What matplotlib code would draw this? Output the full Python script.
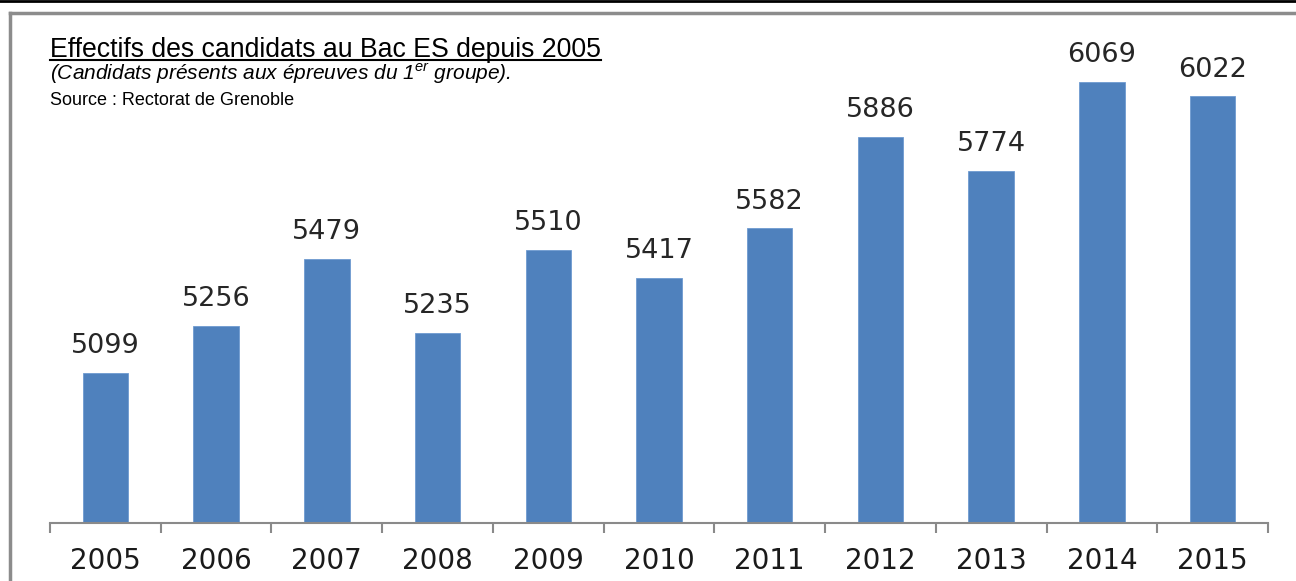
import numpy as np
import matplotlib
matplotlib.use("Agg")
from matplotlib import pyplot as plt
from matplotlib.lines import Line2D

years = ["2005", "2006", "2007", "2008", "2009", "2010", "2011", "2012", "2013", "2014", "2015"]
candidats = [5099, 5256, 5479, 5235, 5510, 5417, 5582, 5886, 5774, 6069, 6022]

title = "Effectifs des candidats au Bac ES depuis 2005"
subtitle = r"(Candidats présents aux épreuves du $1^{er}$ groupe)."
source = "Source : Rectorat de Grenoble"

plt.rcParams['mathtext.fontset'] = 'custom'
plt.rcParams['mathtext.rm'] = 'Liberation Sans:italic'
plt.rcParams['mathtext.it'] = 'Liberation Sans:italic'

W, H = 1296, 581
fig = plt.figure(figsize=(W / 100, H / 100), dpi=100)
ax = fig.add_axes([50 / W, (H - 523) / H, (1268 - 50) / W, 480 / H])

x = np.arange(len(years))
bars = ax.bar(x, candidats, width=0.41, color="#4F81BD", edgecolor="#6f9ad0", linewidth=0.6)
ax.set_xlim(-0.5, len(years) - 0.5)
ax.set_ylim(4600, 6200)

for b, v in zip(bars, candidats):
    ax.annotate(str(v), (b.get_x() + b.get_width() / 2, v), xytext=(0, 10),
                textcoords="offset points", ha="center", va="bottom",
                fontsize=19.5, color="#262626", family="DejaVu Sans")

for s in ["top", "left", "right"]:
    ax.spines[s].set_visible(False)
ax.spines["bottom"].set_color("#8a8a8a")
ax.spines["bottom"].set_linewidth(1.5)
ax.set_yticks([])
ax.set_xticks(x)
ax.set_xticklabels(years, fontsize=20, color="#1a1a1a", family="DejaVu Sans")
ax.tick_params(axis="x", which="major", length=0, pad=17)
ax.set_xticks(np.arange(-0.5, len(years)), minor=True)
ax.tick_params(axis="x", which="minor", length=7, width=1.5, color="#8a8a8a", direction="out")

# titles
t = fig.text(50 / W, (H - 57) / H, title, fontsize=19.2, family="Liberation Sans",
             va="baseline", ha="left", color="black")
fig.text(50 / W, (H - 80) / H, subtitle, fontsize=15, family="Liberation Sans",
         style="italic", va="baseline", ha="left", color="black")
fig.text(50 / W, (H - 105) / H, source, fontsize=13, family="Liberation Sans",
         va="baseline", ha="left", color="black")

# underline the title
fig.canvas.draw()
bb = t.get_window_extent()
fig.add_artist(Line2D([bb.x0 / W, bb.x1 / W], [(H - 60) / H] * 2, color="black", lw=1.5))

# frame
fig.add_artist(Line2D([0, 1], [(H - 1) / H] * 2, color="black", lw=2))
fig.add_artist(Line2D([10 / W, 1], [(H - 13) / H] * 2, color="#8c8c8c", lw=2.5))
fig.add_artist(Line2D([10 / W, 10 / W], [0, (H - 13) / H], color="#8c8c8c", lw=2.5))

fig.savefig("out.png", dpi=100)
